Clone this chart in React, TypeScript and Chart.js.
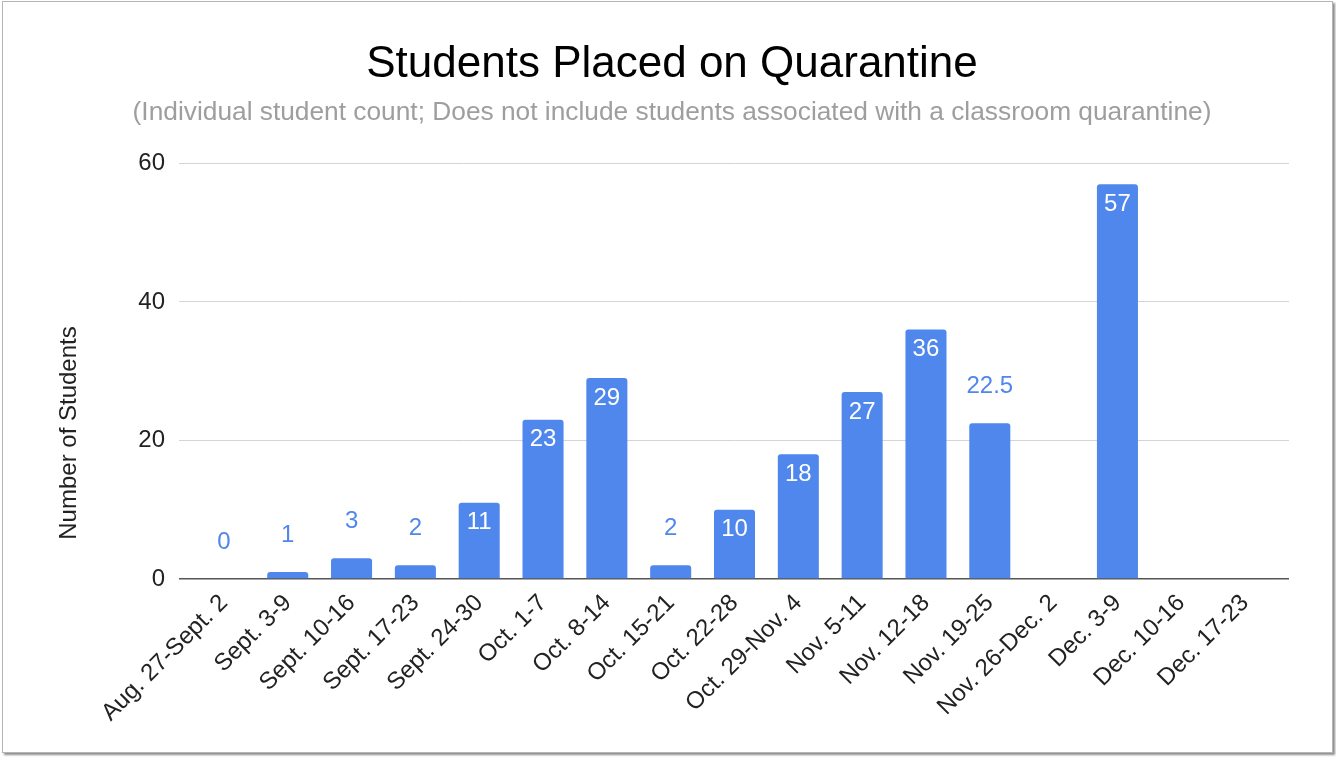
import React, { useEffect, useRef } from 'react';
import { Chart, registerables } from 'chart.js';

Chart.register(...registerables);

const categories = [
  'Aug. 27-Sept. 2',
  'Sept. 3-9',
  'Sept. 10-16',
  'Sept. 17-23',
  'Sept. 24-30',
  'Oct. 1-7',
  'Oct. 8-14',
  'Oct. 15-21',
  'Oct. 22-28',
  'Oct. 29-Nov. 4',
  'Nov. 5-11',
  'Nov. 12-18',
  'Nov. 19-25',
  'Nov. 26-Dec. 2',
  'Dec. 3-9',
  'Dec. 10-16',
  'Dec. 17-23',
];
const studentCounts: (number | null)[] = [0, 1, 3, 2, 11, 23, 29, 2, 10, 18, 27, 36, 22.5, null, 57, null, null];
const yTickValues = [0, 20, 40, 60];

const chartTitle = 'Students Placed on Quarantine';
const chartSubtitle =
  '(Individual student count; Does not include students associated with a classroom quarantine)';
const yAxisTitle = 'Number of Students';

const BLUE = '#4f87ec';
const FONT = "'Liberation Sans', Arial, Helvetica, sans-serif";

const gridColor = (ctx: any) => (ctx.tick && ctx.tick.value === 0 ? '#555555' : '#d4d4d4');
const gridWidth = (ctx: any) => (ctx.tick && ctx.tick.value === 0 ? 1.5 : 1);

const dataLabelPlugin = {
  id: 'dataLabels',
  afterDatasetsDraw(chart: any) {
    const { ctx } = chart;
    const meta = chart.getDatasetMeta(0);
    const data = chart.data.datasets[0].data as (number | null)[];
    ctx.save();
    ctx.font = `24px ${FONT}`;
    ctx.textAlign = 'center';
    ctx.textBaseline = 'middle';
    meta.data.forEach((el: any, i: number) => {
      const v = data[i];
      if (v === null || v === undefined) return;
      const outside = v < 5 || !Number.isInteger(v);
      if (outside) {
        ctx.fillStyle = BLUE;
        ctx.fillText(String(v), el.x, el.y - 37);
      } else {
        ctx.fillStyle = '#ffffff';
        ctx.fillText(String(v), el.x, el.y + 20);
      }
    });
    ctx.restore();
  },
};

// Y-axis title placed like the reference (centred lower than the plot area centre)
const yTitlePlugin = {
  id: 'yTitle',
  afterDraw(chart: any) {
    const { ctx } = chart;
    ctx.save();
    ctx.translate(69, 433);
    ctx.rotate(-Math.PI / 2);
    ctx.font = `24px ${FONT}`;
    ctx.fillStyle = '#222222';
    ctx.textAlign = 'center';
    ctx.textBaseline = 'middle';
    ctx.fillText(yAxisTitle, 0, 0);
    ctx.restore();
  },
};

export default function App() {
  const canvasRef = useRef<HTMLCanvasElement | null>(null);

  useEffect(() => {
    if (!canvasRef.current) return;
    const chart = new Chart(canvasRef.current, {
      type: 'bar',
      data: {
        labels: categories,
        datasets: [
          {
            data: studentCounts,
            backgroundColor: BLUE,
            borderRadius: { topLeft: 3, topRight: 3, bottomLeft: 0, bottomRight: 0 },
            borderSkipped: false,
            barPercentage: 0.643,
            categoryPercentage: 1,
            yAxisID: 'y',
          },
        ],
      },
      options: {
        responsive: false,
        animation: false,
        devicePixelRatio: 1,
        layout: { padding: { left: 8, right: 0, top: 0, bottom: 0 } },
        plugins: {
          legend: { display: false },
          tooltip: { enabled: false },
          title: {
            display: true,
            text: chartTitle,
            color: '#000000',
            font: { family: FONT, size: 44, weight: 'normal' },
            padding: { top: 38, bottom: 0 },
          },
          subtitle: {
            display: true,
            text: chartSubtitle,
            color: '#9e9e9e',
            font: { family: FONT, size: 26.3, weight: 'normal' },
            padding: { top: 6, bottom: 35 },
          },
        },
        scales: {
          x: {
            type: 'category',
            offset: true,
            grid: { display: false, drawTicks: false },
            border: { display: false },
            ticks: {
              autoSkip: false,
              minRotation: 45,
              maxRotation: 45,
              color: '#222222',
              font: { family: FONT, size: 24 },
              padding: 10,
            },
            afterFit: (s: any) => {
              s.height = 178;
            },
          },
          y: {
            position: 'left',
            min: 0,
            max: 60,
            afterBuildTicks: (s: any) => {
              s.ticks = yTickValues.map((v) => ({ value: v }));
            },
            afterFit: (s: any) => {
              s.width = 184;
            },
            ticks: {
              color: '#222222',
              font: { family: FONT, size: 24 },
              padding: 14,
            },
            grid: {
              color: gridColor,
              tickColor: gridColor,
              lineWidth: gridWidth,
              tickWidth: gridWidth,
              tickLength: 13,
            },
            border: { display: false },
            title: { display: false },
          },
          y2: {
            position: 'right',
            min: 0,
            max: 60,
            afterBuildTicks: (s: any) => {
              s.ticks = yTickValues.map((v) => ({ value: v }));
            },
            afterFit: (s: any) => {
              s.width = 59;
            },
            ticks: { display: false },
            grid: {
              drawOnChartArea: false,
              color: gridColor,
              tickColor: gridColor,
              lineWidth: gridWidth,
              tickWidth: gridWidth,
              tickLength: 12,
            },
            border: { display: false },
          },
        },
      },
      plugins: [dataLabelPlugin, yTitlePlugin],
    } as any);
    return () => chart.destroy();
  }, []);

  return (
    <div style={{ position: 'absolute', left: 0, top: 0, width: 1336, height: 757, background: '#ffffff' }}>
      <div
        style={{
          position: 'absolute',
          left: 2,
          top: 1,
          width: 1331,
          height: 752,
          boxSizing: 'border-box',
          border: '1px solid #b5b5b5',
          boxShadow: '2px 2px 2px rgba(0,0,0,0.45)',
          background: '#ffffff',
        }}
      />
      <canvas
        ref={canvasRef}
        width={1336}
        height={757}
        style={{ position: 'absolute', left: 0, top: 0, width: 1336, height: 757, display: 'block' }}
      />
    </div>
  );
}
